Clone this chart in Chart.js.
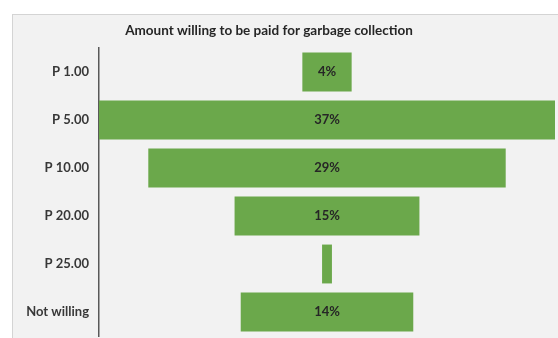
<!DOCTYPE html>
<html lang="en">
<head>
    <meta charset="UTF-8">
    <title>Amount willing to be paid for garbage collection</title>
    <script src="https://cdn.jsdelivr.net/npm/chart.js"></script>
    <style>
        body {
            margin: 0;
            background: #ffffff;
            font-family: Lato, Arial;
        }
        .frame {
            position: absolute;
            left: 12px;
            top: 14px;
            width: 546px;
            height: 324px;
            background: #f2f2f2;
            border-left: 1px solid #d4d4d4;
            border-top: 1px solid #d4d4d4;
        }
        .wrap {
            position: absolute;
            left: 0;
            top: 0;
            width: 558px;
            height: 338px;
        }
        canvas {
            display: block;
        }
    </style>
</head>
<body>
    <div class="frame"></div>
    <div class="wrap">
        <canvas id="funnel" width="558" height="338"></canvas>
    </div>

    <script>
        // Answers per amount (percent of respondents)
        const amounts = ['P 1.00', 'P 5.00', 'P 10.00', 'P 20.00', 'P 25.00', 'Not willing'];
        const shares = [4, 37, 29, 15, 0.8, 14];
        const titleText = 'Amount willing to be paid for garbage collection';

        const maxShare = Math.max(...shares);
        const barColor = '#6ba84b';
        const textColor = '#262626';

        // funnel: each bar floats centred on zero
        const spans = shares.map(v => [-v / 2, v / 2]);

        // title sits a bit left of the plot centre, as in the sheet
        const titlePlugin = {
            id: 'sheetTitle',
            afterDraw(chart) {
                const ctx = chart.ctx;
                ctx.save();
                ctx.font = 'bold 13.5px Lato, Arial';
                ctx.fillStyle = textColor;
                ctx.textAlign = 'center';
                ctx.textBaseline = 'middle';
                ctx.fillText(titleText, 269, 31);
                ctx.restore();
            }
        };

        // percent labels in the middle of each bar (skip the ones too thin to hold text)
        const valuePlugin = {
            id: 'barValues',
            afterDatasetsDraw(chart) {
                const ctx = chart.ctx;
                const meta = chart.getDatasetMeta(0);
                ctx.save();
                ctx.font = 'bold 13px Lato, Arial';
                ctx.fillStyle = textColor;
                ctx.textAlign = 'center';
                ctx.textBaseline = 'middle';
                meta.data.forEach((bar, i) => {
                    if (shares[i] < 2) return;
                    const cx = chart.scales.x.getPixelForValue(0);
                    ctx.fillText(shares[i] + '%', cx, bar.y);
                });
                ctx.restore();
            }
        };

        const ctx = document.getElementById('funnel').getContext('2d');
        const chart = new Chart(ctx, {
            type: 'bar',
            data: {
                labels: amounts,
                datasets: [{
                    data: spans,
                    backgroundColor: barColor,
                    borderWidth: 0,
                    barPercentage: 0.81,
                    categoryPercentage: 1
                }]
            },
            options: {
                indexAxis: 'y',
                responsive: false,
                animation: false,
                layout: {
                    padding: { top: 48, right: 3, bottom: 2, left: 0 }
                },
                plugins: {
                    legend: { display: false },
                    tooltip: { enabled: false }
                },
                scales: {
                    x: {
                        display: false,
                        min: -maxShare / 2,
                        max: maxShare / 2
                    },
                    y: {
                        grid: { display: false },
                        border: { display: true, color: '#595959', width: 1.5 },
                        ticks: {
                            color: '#383838',
                            padding: 2,
                            font: { family: 'Lato, Arial', size: 13, weight: 'bold' }
                        },
                        afterFit(scale) {
                            scale.width = 99;
                            // labels sit inside their rows, no extra room needed above/below
                            scale.paddingTop = 0;
                            scale.paddingBottom = 0;
                        }
                    }
                }
            },
            plugins: [titlePlugin, valuePlugin]
        });
    </script>
</body>
</html>
